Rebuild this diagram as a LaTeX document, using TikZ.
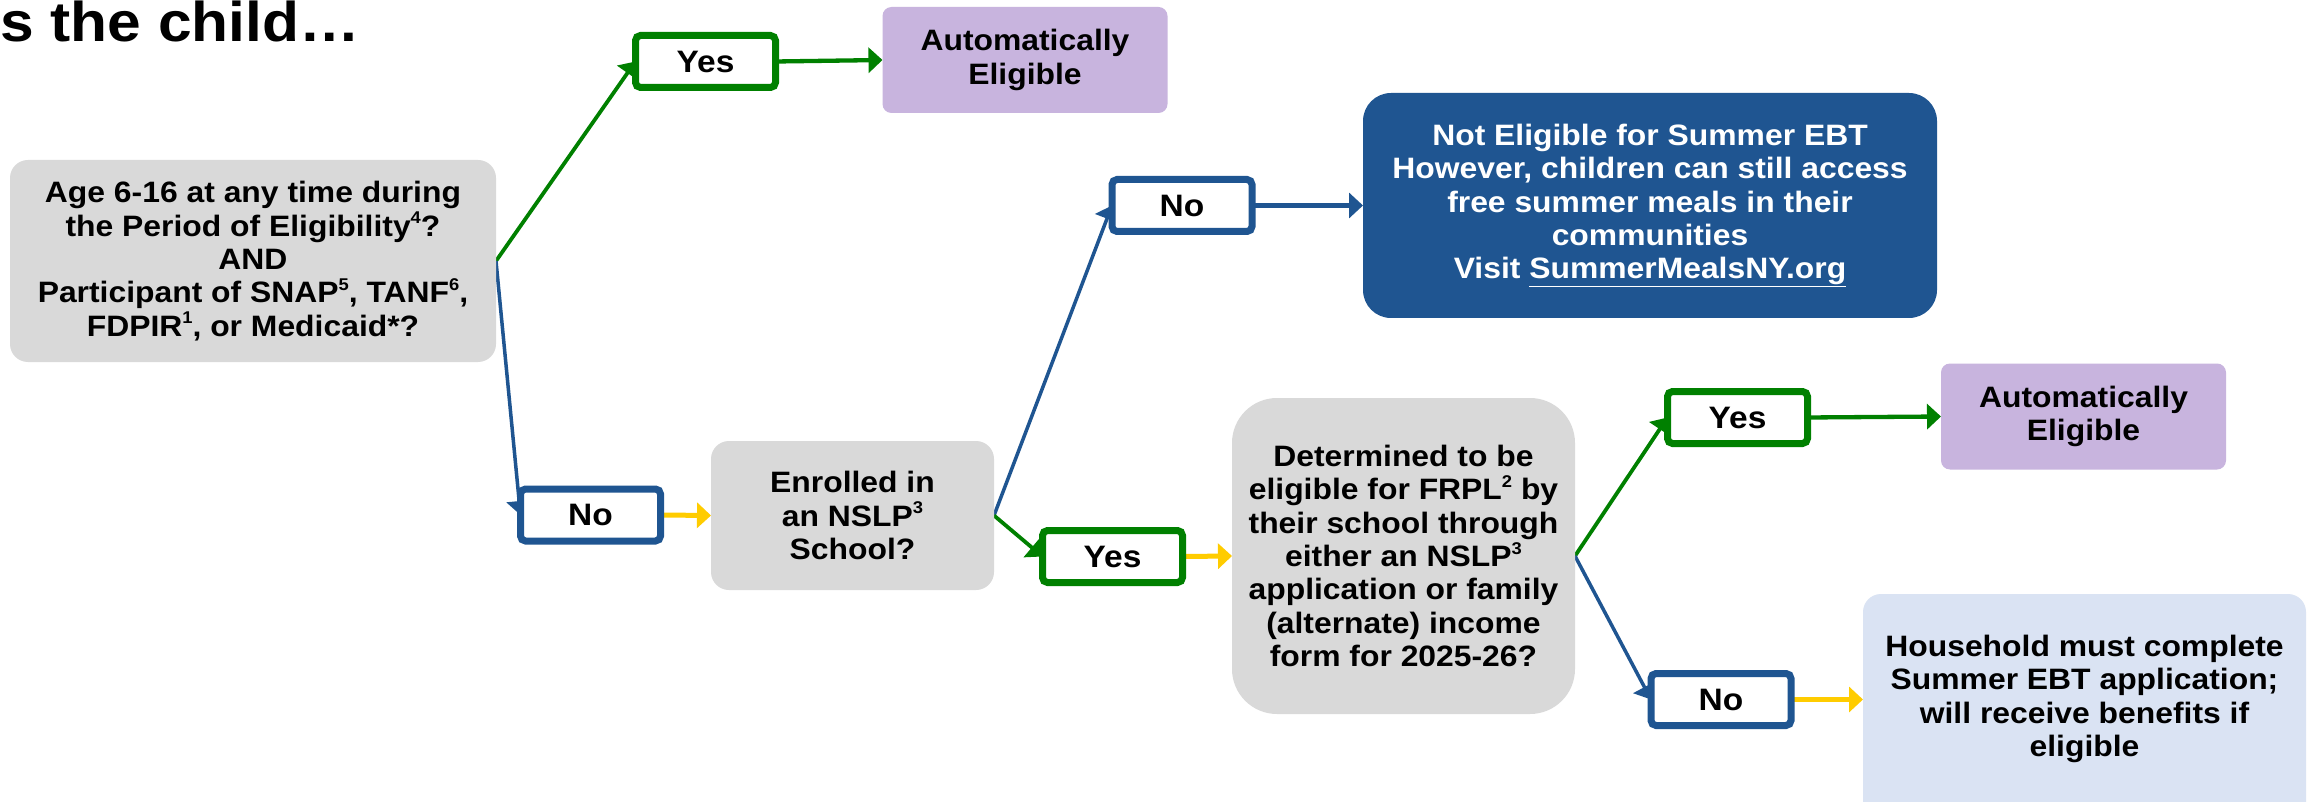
\documentclass[tikz,border=0pt]{standalone}
\usepackage{fontspec}
\setmainfont[FakeStretch=1.08]{Liberation Sans}
\usetikzlibrary{arrows.meta,backgrounds}
\definecolor{cgreen}{HTML}{008000}
\definecolor{cblue}{HTML}{1F5591}
\definecolor{cgrey}{HTML}{D9D9D9}
\definecolor{cpurple}{HTML}{C8B4DE}
\definecolor{clight}{HTML}{DAE3F3}
\definecolor{cyellow}{HTML}{FFCC00}
\newcommand\supr[1]{\raisebox{0.42em}{\fontsize{17}{17}\selectfont #1}}
\begin{document}
\begin{tikzpicture}[x=1pt,y=-1pt,
  txt/.style={font=\bfseries\fontsize{29.5}{33.3}\selectfont, align=center, inner sep=0pt, outer sep=0pt},
  qbox/.style={txt, fill=cgrey, rounded corners=18pt},
  pbox/.style={txt, fill=cpurple, rounded corners=9pt, minimum width=285pt, minimum height=106pt},
  ebox/.style={txt, fill=cblue, text=white, rounded corners=28pt},
  lbox/.style={txt, fill=clight, rounded corners=18pt},
  lab/.style={txt, font=\bfseries\fontsize{31}{34}\selectfont, fill=white, line width=7pt, rounded corners=5pt, minimum width=140pt, minimum height=52pt},
  glab/.style={lab, draw=cgreen},
  blab/.style={lab, draw=cblue},
  arr/.style={-{Triangle[length=14pt,width=25pt]}},
  gline/.style={arr, draw=cgreen, line width=3.8pt},
  gflat/.style={arr, draw=cgreen, line width=4.3pt},
  bline/.style={arr, draw=cblue, line width=3.5pt},
  bflat/.style={arr, draw=cblue, line width=4.5pt},
  yline/.style={arr, draw=cyellow, line width=5pt},
]
\useasboundingbox (0,0) rectangle (2316,802);
\clip (0,0) rectangle (2316,802);

\node[font=\bfseries\fontsize{56}{60}\selectfont, anchor=base east, inner sep=0pt] (title) at (360,42) {s the child…};

\node[qbox, minimum width=486pt, minimum height=202pt] (q1) at (253,261)
  {Age 6-16 at any time during\\the Period of Eligibility\supr{4}?\\AND\\Participant of SNAP\supr{5}, TANF\supr{6},\\FDPIR\supr{1}, or Medicaid*?};
\node[qbox, minimum width=283pt, minimum height=149pt] (q2) at (852.5,515.5)
  {Enrolled in\\an NSLP\supr{3}\\School?};
\node[qbox, rounded corners=45pt, minimum width=343pt, minimum height=316pt] (q3) at (1403.5,556)
  {Determined to be\\eligible for FRPL\supr{2} by\\their school through\\either an NSLP\supr{3}\\application or family\\(alternate) income\\form for 2025-26?};

\node[pbox] (p1) at (1025,60) {Automatically\\Eligible};
\node[pbox] (p2) at (2083.5,416.5) {Automatically\\Eligible};

\node[ebox, minimum width=574pt, minimum height=225pt] (ne) at (1650,205.5)
  {Not Eligible for Summer EBT\\However, children can still access\\free summer meals in their\\communities\\Visit \underline{SummerMealsNY.org}};

\node[lbox, anchor=north, minimum width=443pt, minimum height=240pt] (hh) at (2084.5,594) {};
\node[txt] (hhtext) at (2084.5,699)
  {Household must complete\\Summer EBT application;\\will receive benefits if\\eligible};

\node[glab] (y1) at (705.5,61.5) {Yes};
\node[blab] (n1) at (590.5,515) {No};
\node[glab] (y2) at (1112.5,556.5) {Yes};
\node[blab] (n2) at (1182,205.5) {No};
\node[glab] (y3) at (1737.5,417.5) {Yes};
\node[blab] (n3) at (1721,699.5) {No};

\begin{scope}[on background layer]
  \fill[white] (0,0) rectangle (2316,802);
  \draw[gline] (q1.east) -- (y1.west);
  \draw[bline] (q1.east) -- (n1.west);
  \draw[gflat] (y1.east) -- (p1.west);
  \draw[yline] (n1.east) -- (q2.west);
  \draw[bline] (q2.east) -- (n2.west);
  \draw[gline] (q2.east) -- (y2.west);
  \draw[bflat] (n2.east) -- (ne.west);
  \draw[yline] (y2.east) -- (q3.west);
  \draw[gline] (q3.east) -- (y3.west);
  \draw[bline] (q3.east) -- (n3.west);
  \draw[gflat] (y3.east) -- (p2.west);
  \draw[yline] (n3.east) -- (hh.west |- n3.east);
\end{scope}
\end{tikzpicture}
\end{document}
